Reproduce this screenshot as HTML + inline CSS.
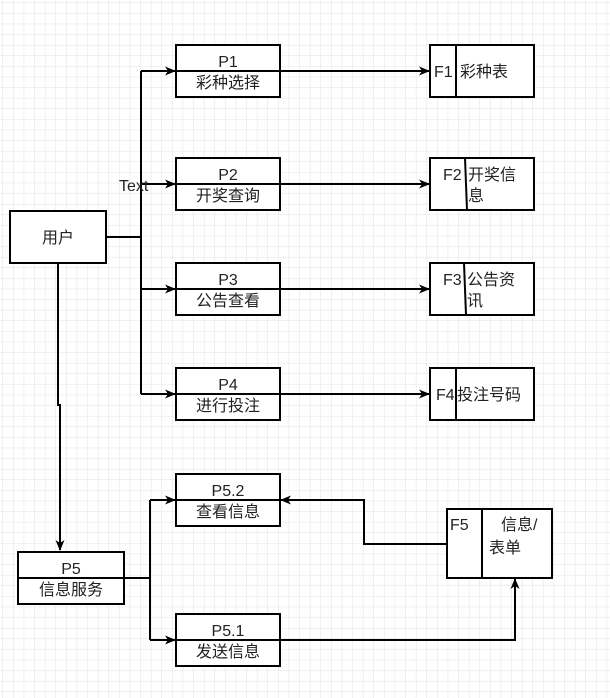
<!DOCTYPE html>
<html><head><meta charset="utf-8"><style>
html,body{margin:0;padding:0;background:#fff;}
svg{display:block;}
text{font-family:"Liberation Sans","Noto Sans CJK SC",sans-serif;font-size:16px;fill:#222;}
</style></head><body>
<svg width="610" height="698" xmlns="http://www.w3.org/2000/svg">
<defs>
<pattern id="g" width="10.6" height="10.6" patternUnits="userSpaceOnUse" x="3" y="3">
<path d="M10.6 0V10.6H0" fill="none" stroke="#e2e2e2" stroke-width="1"/>
</pattern>
<marker id="a" markerWidth="11" markerHeight="11" refX="10" refY="5.5" orient="auto" markerUnits="userSpaceOnUse">
<path d="M0,1 L11,5.5 L0,10 L3,5.5 Z" fill="#000"/>
</marker>
</defs>
<rect width="610" height="698" fill="url(#g)"/>
<g fill="none" stroke="#000" stroke-width="2">
<rect x="10" y="211" width="96" height="52" fill="#fff"/>
<path d="M106 237H141"/>
<path d="M141 71V394"/>
<path d="M141 71H175" marker-end="url(#a)"/>
<path d="M141 184H175" marker-end="url(#a)"/>
<path d="M141 289H175" marker-end="url(#a)"/>
<path d="M141 394H175" marker-end="url(#a)"/>
<rect x="176" y="45" width="104" height="52" fill="#fff"/><path d="M176 71H280"/>
<rect x="176" y="158" width="104" height="52" fill="#fff"/><path d="M176 184H280"/>
<rect x="176" y="263" width="104" height="52" fill="#fff"/><path d="M176 289H280"/>
<rect x="176" y="368" width="104" height="52" fill="#fff"/><path d="M176 394H280"/>
<path d="M280 71H429" marker-end="url(#a)"/>
<path d="M280 184H429" marker-end="url(#a)"/>
<path d="M280 289H429" marker-end="url(#a)"/>
<path d="M280 394H429" marker-end="url(#a)"/>
<rect x="430" y="45" width="104" height="52" fill="#fff"/><path d="M456 45V97"/>
<rect x="430" y="158" width="104" height="52" fill="#fff"/><path d="M465 158L467 210"/>
<rect x="430" y="263" width="104" height="52" fill="#fff"/><path d="M464 263L466 315"/>
<rect x="430" y="368" width="104" height="52" fill="#fff"/><path d="M456 368V420"/>
<path d="M58 263V405H60V550" marker-end="url(#a)"/>
<rect x="18" y="552" width="106" height="52" fill="#fff"/><path d="M18 578H124"/>
<path d="M124 578H150"/>
<path d="M150 500V640"/>
<path d="M150 500H175" marker-end="url(#a)"/>
<path d="M150 640H175" marker-end="url(#a)"/>
<rect x="176" y="474" width="104" height="52" fill="#fff"/><path d="M176 500H280"/>
<rect x="176" y="614" width="104" height="52" fill="#fff"/><path d="M176 640H280"/>
<rect x="447" y="509" width="105" height="69" fill="#fff"/><path d="M482 509V578"/>
<path d="M447 544H364V500H281" marker-end="url(#a)"/>
<path d="M280 640H515V579" marker-end="url(#a)"/>
</g>
<g text-anchor="middle">
<text x="58" y="243">用户</text>
<text x="228" y="67">P1</text><text x="228" y="88">彩种选择</text>
<text x="228" y="180">P2</text><text x="228" y="201">开奖查询</text>
<text x="228" y="285">P3</text><text x="228" y="306">公告查看</text>
<text x="228" y="390">P4</text><text x="228" y="411">进行投注</text>
<text x="71" y="574">P5</text><text x="71" y="595">信息服务</text>
<text x="228" y="496">P5.2</text><text x="228" y="517">查看信息</text>
<text x="228" y="636">P5.1</text><text x="228" y="657">发送信息</text>
</g>
<text x="119" y="191" font-size="15">Text</text>
<text x="434" y="77">F1</text><text x="460" y="77">彩种表</text>
<text x="443" y="180">F2</text><text x="468" y="180">开奖信</text><text x="468" y="201">息</text>
<text x="443" y="285">F3</text><text x="467" y="285">公告资</text><text x="467" y="306">讯</text>
<text x="436" y="400">F4</text><text x="457" y="400">投注号码</text>
<text x="450" y="530">F5</text>
<text x="501" y="530">信息/</text><text x="489" y="553">表单</text>
</svg>
</body></html>
